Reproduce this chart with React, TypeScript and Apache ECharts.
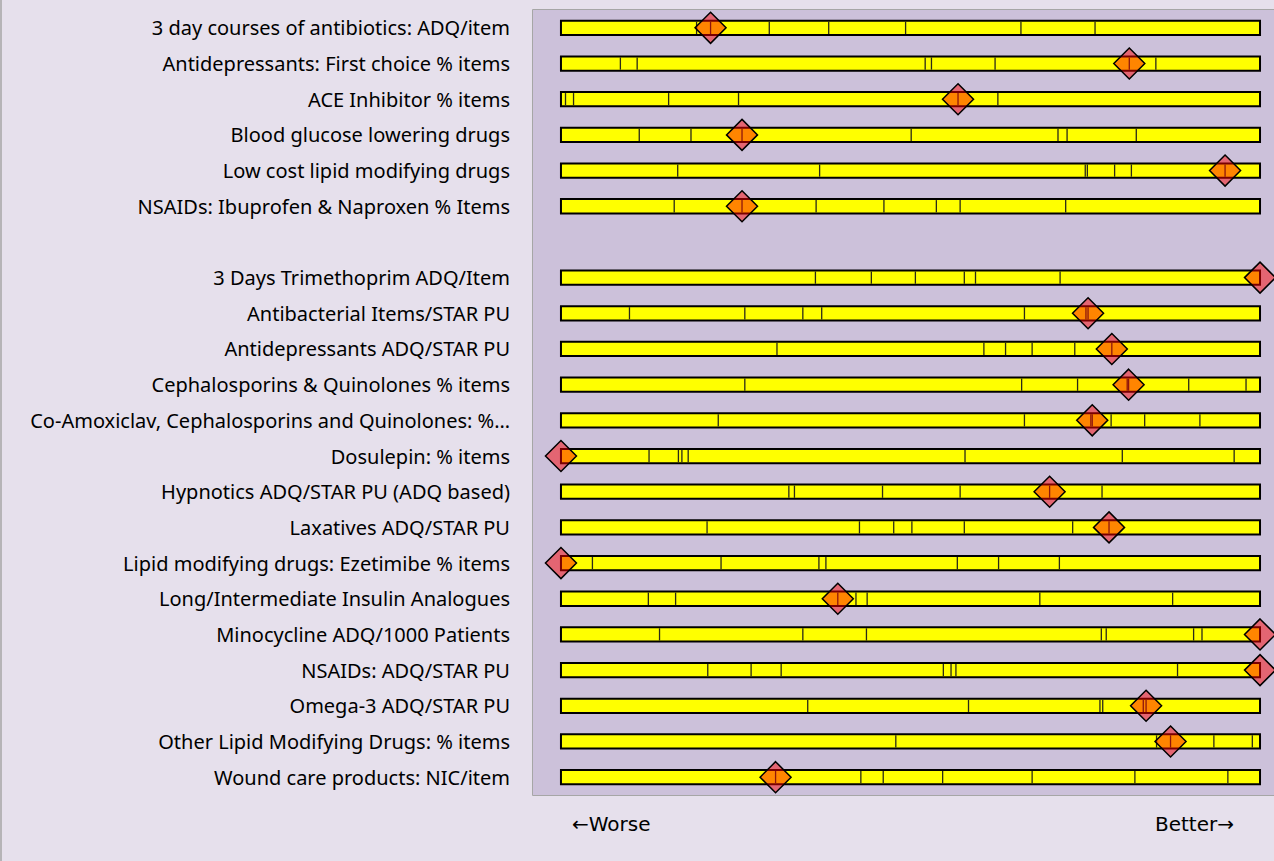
import React, { useEffect, useRef } from "react";
import * as echarts from "echarts";

const groupOneLabels = [
  "3 day courses of antibiotics: ADQ/item",
  "Antidepressants: First choice % items",
  "ACE Inhibitor % items",
  "Blood glucose lowering drugs",
  "Low cost lipid modifying drugs",
  "NSAIDs: Ibuprofen & Naproxen % Items",
];

const groupTwoLabels = [
  "3 Days Trimethoprim ADQ/Item",
  "Antibacterial Items/STAR PU",
  "Antidepressants ADQ/STAR PU",
  "Cephalosporins & Quinolones % items",
  "Co-Amoxiclav, Cephalosporins and Quinolones: %…",
  "Dosulepin: % items",
  "Hypnotics ADQ/STAR PU (ADQ based)",
  "Laxatives ADQ/STAR PU",
  "Lipid modifying drugs: Ezetimibe % items",
  "Long/Intermediate Insulin Analogues",
  "Minocycline ADQ/1000 Patients",
  "NSAIDs: ADQ/STAR PU",
  "Omega-3 ADQ/STAR PU",
  "Other Lipid Modifying Drugs: % items",
  "Wound care products: NIC/item",
];

// segment boundaries along each bar (0 = worst end, 100 = best end)
const segmentBoundaries: number[][] = [
  [19.4, 29.8, 38.3, 49.3, 65.8, 76.4],
  [8.5, 10.9, 52.1, 53.0, 62.1, 85.1],
  [0.65, 1.8, 15.4, 25.4, 62.5],
  [11.2, 18.6, 50.1, 71.1, 72.4, 82.3],
  [16.7, 37.0, 75.0, 75.3, 79.2, 81.6],
  [16.2, 36.5, 46.2, 53.7, 57.1, 72.2],
  [36.4, 44.4, 50.7, 57.7, 59.3, 71.4],
  [9.8, 26.3, 34.6, 37.3, 66.3, 75.1],
  [30.9, 60.5, 63.6, 67.4, 73.5],
  [26.3, 65.9, 73.9, 81.0, 89.8, 98.0],
  [22.5, 66.3, 75.8, 78.7, 83.5, 91.4],
  [12.6, 16.8, 17.3, 18.2, 57.8, 80.3, 96.3],
  [32.6, 33.4, 46.0, 57.1, 77.4],
  [20.9, 42.7, 47.6, 50.2, 57.7, 73.2],
  [4.5, 22.9, 36.9, 37.9, 56.7, 62.6, 71.3],
  [12.5, 16.4, 42.2, 43.8, 68.5, 87.5],
  [14.1, 34.6, 43.7, 77.3, 78.0, 90.5, 91.7],
  [21.0, 27.2, 31.5, 54.7, 55.8, 56.5, 88.2],
  [35.3, 58.3, 77.1, 77.5, 83.3],
  [47.9, 85.2, 93.4, 98.9],
  [42.9, 46.1, 54.6, 67.4, 82.1, 95.4],
];

// practice position on each bar
const practiceValues: number[] = [
  21.4, 81.3, 56.8, 25.9, 95.0, 25.9,
  100, 75.4, 78.8, 81.2, 76.0, 0, 69.9, 78.4, 0, 39.6, 100, 100, 83.7, 87.2, 30.7,
];

const axisLabelsX = ["←Worse", "Better→"];

const rowLabels = [...groupOneLabels, ...groupTwoLabels];
const categories = [...groupOneLabels, "", ...groupTwoLabels];

export default function App() {
  const ref = useRef<HTMLDivElement>(null);
  useEffect(() => {
    if (!ref.current) return;
    const chart = echarts.init(ref.current, null, { renderer: "svg" });
    const font = "'Noto Sans', sans-serif";
    const arrowFont = "'DejaVu Sans', sans-serif";
    const barData = rowLabels.map((c) => [0, 100, categories.indexOf(c)]);
    const pointData = rowLabels.map((c, i) => [practiceValues[i], categories.indexOf(c)]);
    const border = { stroke: "#a6a6a6", lineWidth: 1 };
    chart.setOption({
      animation: false,
      backgroundColor: "#e6e0ec",
      grid: {
        left: 533,
        top: 10,
        right: 0,
        height: 785,
        show: true,
        backgroundColor: "#ccc1da",
        borderWidth: 0,
      },
      xAxis: {
        type: "value",
        min: -4,
        max: 102,
        show: false,
      },
      yAxis: {
        type: "category",
        data: categories,
        inverse: true,
        axisLine: { show: false },
        axisTick: { show: false },
        splitLine: { show: false },
        axisLabel: {
          interval: 0,
          color: "#000",
          fontSize: 20,
          fontFamily: font,
          margin: 23,
        },
      },
      graphic: [
        {
          type: "line",
          shape: { x1: 1, y1: 0, x2: 1, y2: 861 },
          style: { stroke: "#a6a6a6", lineWidth: 1.5 },
        },
        { type: "line", shape: { x1: 532.5, y1: 9.5, x2: 1274, y2: 9.5 }, style: border },
        { type: "line", shape: { x1: 532.5, y1: 9.5, x2: 532.5, y2: 795.5 }, style: border },
        { type: "line", shape: { x1: 532.5, y1: 795.5, x2: 1274, y2: 795.5 }, style: border },
        {
          type: "text",
          left: 572,
          top: 814,
          style: { text: axisLabelsX[0], fontSize: 20, fontFamily: arrowFont, fill: "#000" },
        },
        {
          type: "text",
          left: 1155,
          top: 814,
          style: { text: axisLabelsX[1], fontSize: 20, fontFamily: arrowFont, fill: "#000" },
        },
      ],
      series: [
        {
          type: "custom",
          data: barData,
          encode: { x: [0, 1], y: 2 },
          renderItem: (params: any, api: any) => {
            const idx = params.dataIndex;
            const yv = api.value(2);
            const s = api.coord([api.value(0), yv]);
            const e = api.coord([api.value(1), yv]);
            const h = api.size([0, 1])[1] * 0.4;
            const top = s[1] - h / 2;
            const children: any[] = [
              {
                type: "rect",
                shape: { x: s[0], y: top, width: e[0] - s[0], height: h },
                style: { fill: "#ffff00", stroke: "#000", lineWidth: 2 },
              },
            ];
            const lines = [...segmentBoundaries[idx], practiceValues[idx]];
            lines.forEach((v) => {
              if (v <= 0 || v >= 100) return;
              const p = api.coord([v, yv]);
              children.push({
                type: "line",
                shape: { x1: p[0], y1: top + 1, x2: p[0], y2: top + h - 1 },
                style: { stroke: "#2a2a18", lineWidth: 1.3 },
              });
            });
            return { type: "group", children };
          },
          z: 2,
        },
        {
          type: "scatter",
          data: pointData,
          symbol: "diamond",
          symbolSize: [31, 31],
          itemStyle: {
            color: "rgba(255,0,0,0.48)",
            borderColor: "#000",
            borderWidth: 1.5,
            opacity: 1,
          },
          z: 3,
        },
      ],
    });
    return () => chart.dispose();
  }, []);
  return (
    <div
      ref={ref}
      style={{ position: "fixed", left: 0, top: 0, width: 1274, height: 861 }}
    />
  );
}
